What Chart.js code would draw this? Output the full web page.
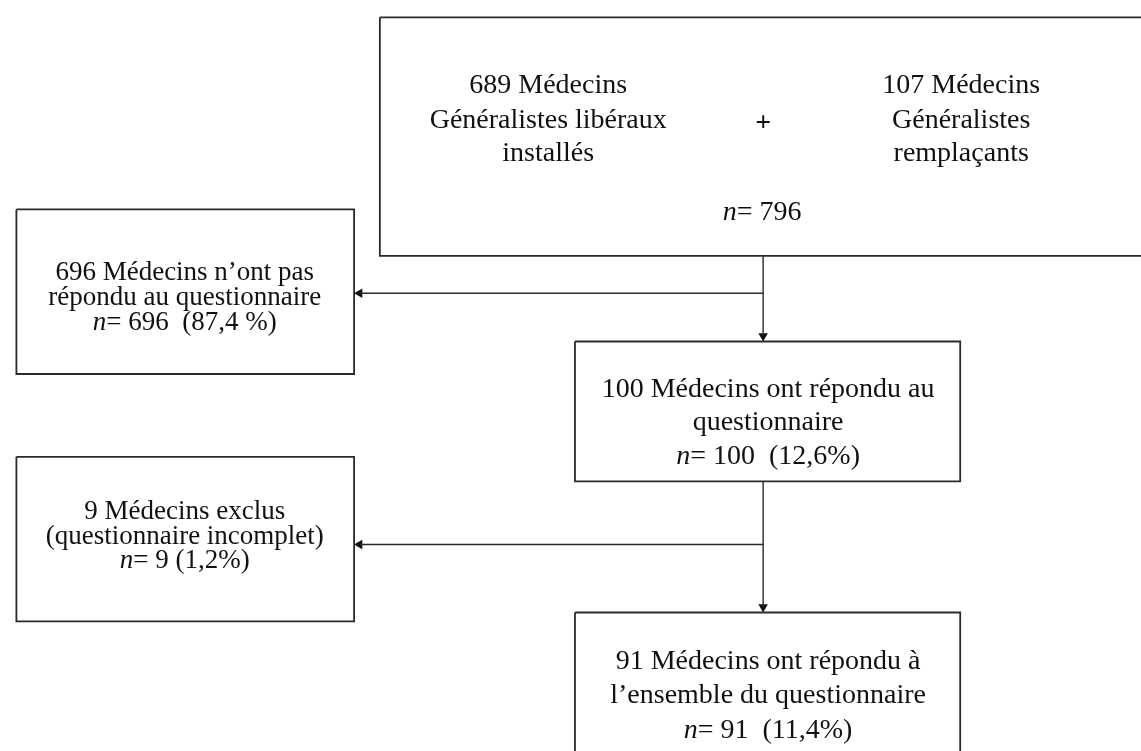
<!DOCTYPE html>
<html>
<head>
<meta charset="utf-8">
<script src="https://cdn.jsdelivr.net/npm/chart.js@4/dist/chart.umd.min.js"></script>
<style>
  html, body { margin: 0; padding: 0; background: #fff; }
  #wrap { width: 1141px; height: 751px; position: relative; }
</style>
</head>
<body>
<div id="wrap"><canvas id="flow"></canvas></div>
<script>
// Data
const sourceCounts = [689, 107];
const sourceLabels = [["Généralistes libéraux", "installés"], ["Généralistes", "remplaçants"]];
const totalCount = 796;

const stepCounts = [696, 100, 9, 91];
const stepPercents = ["87,4 %", "12,6%", "1,2%", "11,4%"];
const stepLabels = [
  ["Médecins n’ont pas", "répondu au questionnaire"],
  ["Médecins ont répondu au", "questionnaire"],
  ["Médecins exclus", "(questionnaire incomplet)"],
  ["Médecins ont répondu à", "l’ensemble du questionnaire"],
];
const stepGaps = ["  ", "  ", " ", "  "];

// Layout (scale units = pixels of the 1141x751 page)
const boxes = {
  top: [378, 12, 1160, 254],
  out1: [11, 207, 352, 374],
  mid: [575, 341, 964, 483],
  out2: [11, 458, 352, 625],
  end: [575, 616, 964, 770],
};
const trunkX = 765;
const branchY = [292, 547];

const lineColor = "#2a2a2a";

const rect = ([x0, y0, x1, y1]) => [
  { x: x0, y: y0 }, { x: x1, y: y0 }, { x: x1, y: y1 }, { x: x0, y: y1 }, { x: x0, y: y0 },
];

const boxSet = (b) => ({
  data: rect(b),
  showLine: true,
  borderColor: lineColor,
  borderWidth: 1.8,
  pointRadius: 0,
  tension: 0,
  clip: false,
});

const lineSet = (pts) => ({
  data: pts,
  showLine: true,
  borderColor: lineColor,
  borderWidth: 1.4,
  pointRadius: 0,
  tension: 0,
  clip: false,
});

const arrowSet = (pts, rotation) => ({
  data: pts,
  showLine: false,
  pointStyle: "triangle",
  pointRotation: rotation,
  pointRadius: 5.5,
  backgroundColor: "#111",
  borderColor: "#111",
  borderWidth: 0,
  clip: false,
});

const datasets = [
  boxSet(boxes.top),
  boxSet(boxes.out1),
  boxSet(boxes.mid),
  boxSet(boxes.out2),
  boxSet(boxes.end),
  lineSet([{ x: trunkX, y: boxes.top[3] }, { x: trunkX, y: boxes.mid[1] - 6 }]),
  lineSet([{ x: trunkX, y: branchY[0] }, { x: boxes.out1[2] + 6, y: branchY[0] }]),
  lineSet([{ x: trunkX, y: boxes.mid[3] }, { x: trunkX, y: boxes.end[1] - 6 }]),
  lineSet([{ x: trunkX, y: branchY[1] }, { x: boxes.out2[2] + 6, y: branchY[1] }]),
  arrowSet([{ x: trunkX, y: boxes.mid[1] - 5.5 }, { x: trunkX, y: boxes.end[1] - 5.5 }], 180),
  arrowSet([{ x: boxes.out1[2] + 5.5, y: branchY[0] }, { x: boxes.out2[2] + 5.5, y: branchY[1] }], -90),
];

// text blocks: centre x, baselines, font size, lines
const nLine = (i) => ({ n: true, rest: "= " + stepCounts[i] + stepGaps[i] + "(" + stepPercents[i] + ")" });

const textBlocks = [
  { cx: 548, ys: [89, 124, 158], size: 28, lines: [sourceCounts[0] + " Médecins", ...sourceLabels[0]] },
  { cx: 965, ys: [89, 124, 158], size: 28, lines: [sourceCounts[1] + " Médecins", ...sourceLabels[1]] },
  { cx: 765, ys: [127], size: 28, bold: true, lines: ["+"] },
  { cx: 764, ys: [218], size: 28, lines: [{ n: true, rest: "= " + totalCount }] },
  { cx: 181, ys: [279, 304, 329], size: 27, lines: [stepCounts[0] + " " + stepLabels[0][0], stepLabels[0][1], nLine(0)] },
  { cx: 770, ys: [397, 431, 465], size: 28, lines: [stepCounts[1] + " " + stepLabels[1][0], stepLabels[1][1], nLine(1)] },
  { cx: 181, ys: [521, 546, 571], size: 27, lines: [stepCounts[2] + " " + stepLabels[2][0], stepLabels[2][1], nLine(2)] },
  { cx: 770, ys: [673, 708, 743], size: 28, lines: [stepCounts[3] + " " + stepLabels[3][0], stepLabels[3][1], nLine(3)] },
];

const flowText = {
  id: "flowText",
  afterDatasetsDraw(chart) {
    const { ctx, scales: { x, y } } = chart;
    ctx.save();
    ctx.fillStyle = "#111";
    ctx.textBaseline = "alphabetic";
    textBlocks.forEach((b) => {
      const px = x.getPixelForValue(b.cx);
      const regular = (b.bold ? "bold " : "") + b.size + "px 'Liberation Serif', 'Times New Roman', serif";
      const italic = "italic " + regular;
      b.lines.forEach((line, i) => {
        const py = y.getPixelForValue(b.ys[i]);
        if (typeof line === "string") {
          ctx.font = regular;
          ctx.textAlign = "center";
          ctx.fillText(line, px, py);
        } else {
          ctx.font = italic;
          const wn = ctx.measureText("n").width;
          ctx.font = regular;
          const wr = ctx.measureText(line.rest).width;
          const start = px - (wn + wr) / 2;
          ctx.textAlign = "left";
          ctx.font = italic;
          ctx.fillText("n", start, py);
          ctx.font = regular;
          ctx.fillText(line.rest, start + wn, py);
        }
      });
    });
    ctx.restore();
  },
};

new Chart(document.getElementById("flow"), {
  type: "scatter",
  data: { datasets },
  options: {
    responsive: true,
    maintainAspectRatio: false,
    animation: false,
    layout: { padding: 0 },
    plugins: { legend: { display: false }, tooltip: { enabled: false } },
    scales: {
      x: { type: "linear", min: 0, max: 1141, display: false },
      y: { type: "linear", min: 0, max: 751, reverse: true, display: false },
    },
  },
  plugins: [flowText],
});
</script>
</body>
</html>
